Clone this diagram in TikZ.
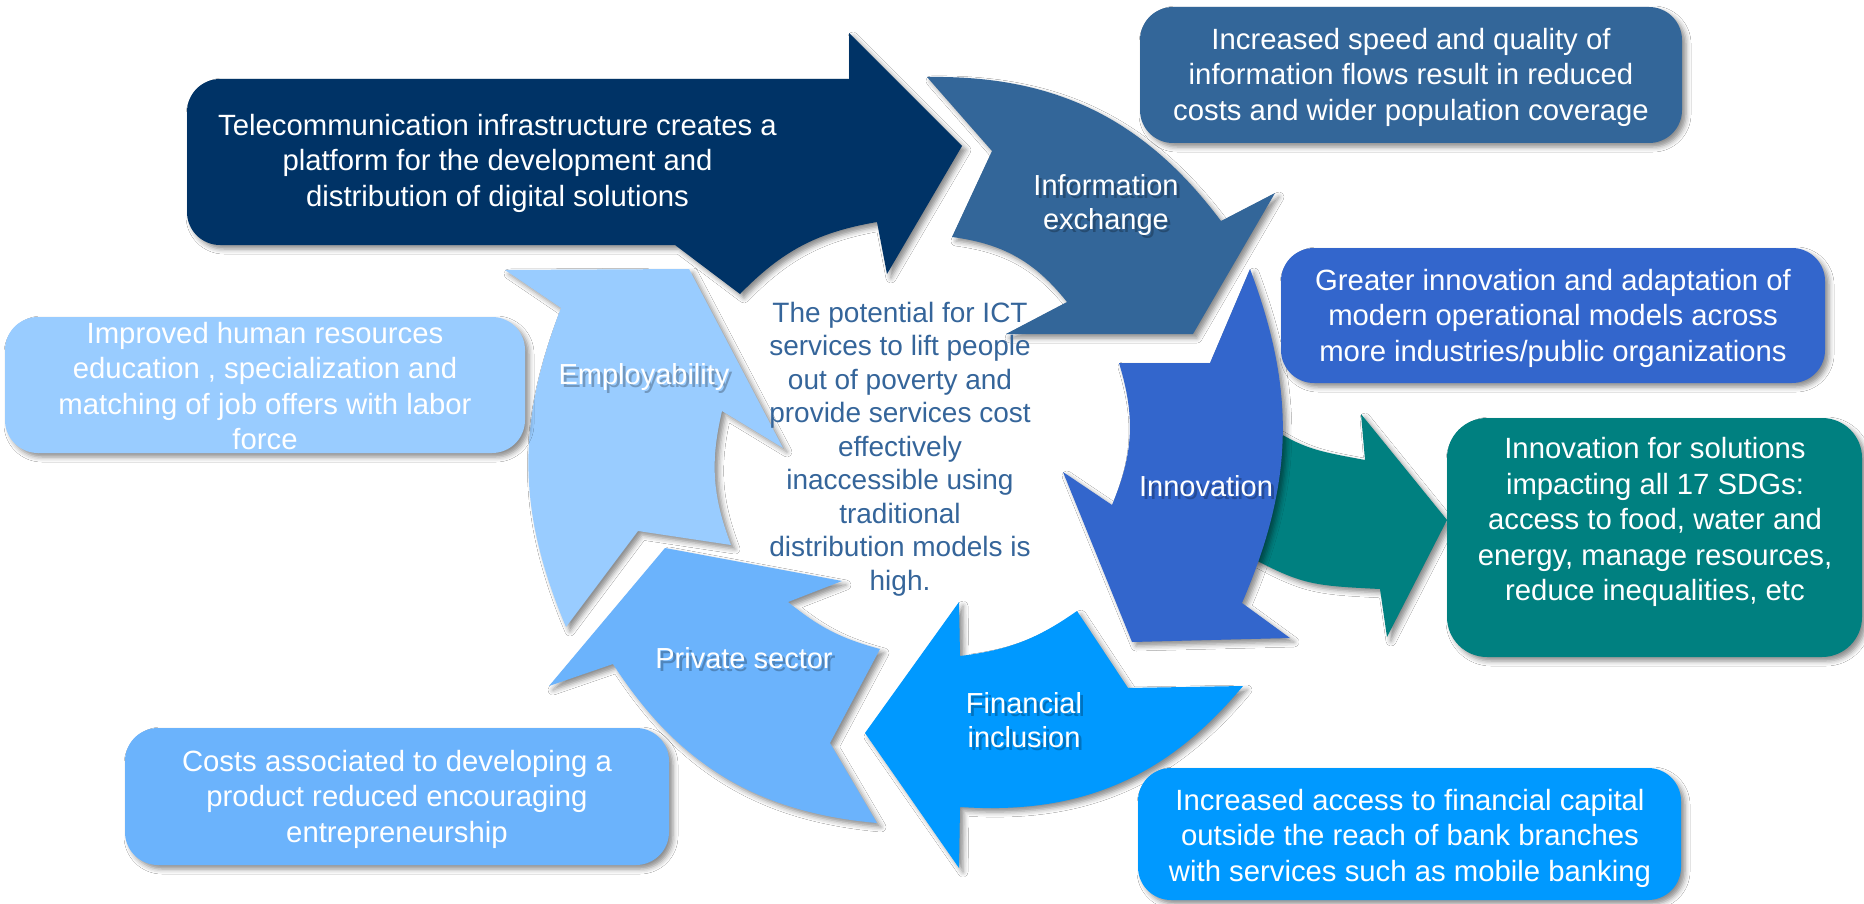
\documentclass[tikz,border=0pt]{standalone}
\usepackage{fontspec}
\setmainfont{Liberation Sans}
\usetikzlibrary{shadows.blur}
\definecolor{cnavy}{HTML}{003366}
\definecolor{cinfo}{HTML}{336699}
\definecolor{cinno}{HTML}{3366CC}
\definecolor{cfin}{HTML}{0099FF}
\definecolor{cpriv}{HTML}{6BB3FC}
\definecolor{cemp}{HTML}{99CCFF}
\definecolor{cteal}{HTML}{008080}
\definecolor{ctext}{HTML}{35659A}
\begin{document}
\begin{tikzpicture}[x=0.5pt,y=-0.5pt,
  sh/.style={blur shadow={shadow xshift=2pt,shadow yshift=-2pt,shadow blur radius=2.5pt,shadow opacity=45}},
  box/.style={sh, rounded corners=16.5pt},
  boxtext/.style={text=white, align=center, font=\fontsize{14.65}{17.75}\selectfont, inner sep=0pt},
  lbl/.style={text=white, align=center, font=\fontsize{14.5}{17}\selectfont, inner sep=0pt},
  lblsh/.style={text=black, opacity=0.25, align=center, font=\fontsize{14.5}{17}\selectfont, inner sep=0pt},
  ctr/.style={text=ctext, align=center, font=\fontsize{14}{16.75}\selectfont, inner sep=0pt}]
\useasboundingbox (0,0) rectangle (1864,904);
\fill[white] (0,0) rectangle (1864,904);

% cycle arrows
\fill[cteal, sh] (1225,398) .. controls (1300,448) .. (1365,460) -- (1361,414) -- (1447,520) -- (1387,637) -- (1380,589) .. controls (1300,585) .. (1210,535) -- cycle;
\fill[cnavy, sh] (849,79) -- (849,33) -- (962,146) -- (887,274) -- (877,222) to[bend right=18] (740,294) -- (675,245) -- (600,245) [rounded corners=16.5pt] -- (187,245) -- (187,79) -- (500,79) [sharp corners] -- cycle;
\fill[cinfo, sh] (927,77) to[bend left=27] (1221,221) -- (1275,193) -- (1193,334) -- (1006,334) -- (1067,302) to[bend right=22] (952,237) -- (992,151) -- cycle;
\fill[cinno, sh] (1250,269) -- (1210,363) -- (1119,363) to[bend left=20] (1112,505) -- (1063,472) -- (1132,642) -- (1290,638) -- (1242,603) to[bend right=22] (1250,269) -- cycle;
\fill[cfin, sh] (1243,686) -- (1128,688) -- (1077,611) to[bend left=14] (960,656) -- (959,602) -- (865,733) -- (959,868) -- (960,807) to[bend right=27] (1243,686) -- cycle;
\fill[cpriv, sh] (665,548) -- (842,581) -- (788,602) to[bend right=12] (880,649) -- (830,743) -- (877,823) to[bend left=26] (613,664) -- (549,686) -- cycle;
\fill[cemp, sh] (505,270) -- (689,269) -- (783,448) -- (722,411) to[bend right=17] (731,545) -- (638,531) -- (566,627) to[bend left=22] (561,308) -- cycle;

% boxes
\fill[cinfo, box] (1140,7) rectangle (1682,143);
\fill[cinno, box] (1281,248) rectangle (1825,383);
\fill[cteal, box, rounded corners=20pt] (1447,418) rectangle (1862,657);
\fill[cfin, box] (1138,768) rectangle (1681,900);
\fill[cpriv, box] (125,728) rectangle (669,865);
\fill[cemp, box] (5,317) rectangle (525,453);

% box texts
\node[boxtext] (ttele) at (497.5,163) {Telecommunication infrastructure creates a\\platform for the development and\\distribution of digital solutions};
\node[boxtext] (tinfo) at (1411,77) {Increased speed and quality of\\information flows result in reduced\\costs and wider population coverage};
\node[boxtext] (tgreat) at (1553,318) {Greater innovation and adaptation of\\modern operational models across\\more industries/public organizations};
\node[boxtext] (tteal) at (1655,522) {Innovation for solutions\\impacting all 17 SDGs:\\access to food, water and\\energy, manage resources,\\reduce inequalities, etc};
\node[boxtext] (tacc) at (1410,838) {Increased access to financial capital\\outside the reach of bank branches\\with services such as mobile banking};
\node[boxtext] (tcost) at (397,799) {Costs associated to developing a\\product reduced encouraging\\entrepreneurship};
\node[boxtext] (timp) at (265,386) {Improved human resources\\education , specialization and\\matching of job offers with labor\\force};

% centre text
\node[ctr] (centre) at (900,449) {The potential for ICT\\services to lift people\\out of poverty and\\provide services cost\\effectively\\inaccessible using\\traditional\\distribution models is\\high.};

% arrow labels with shadow
\node[lblsh] (sinfo) at (1109,208) {Information\\exchange};
\node[lbl] (linfo) at (1106,205) {Information\\exchange};
\node[lblsh] (sinno) at (1209,489) {Innovation};
\node[lbl] (linno) at (1206,486) {Innovation};
\node[lblsh] (sfin) at (1027,723) {Financial\\inclusion};
\node[lbl] (lfin) at (1024,720) {Financial\\inclusion};
\node[lblsh] (spriv) at (747,661) {Private sector};
\node[lbl] (lpriv) at (744,658) {Private sector};
\node[lblsh] (semp) at (647,380) {Employability};
\node[lbl] (lemp) at (644,377) {Employability};
\end{tikzpicture}
\end{document}
